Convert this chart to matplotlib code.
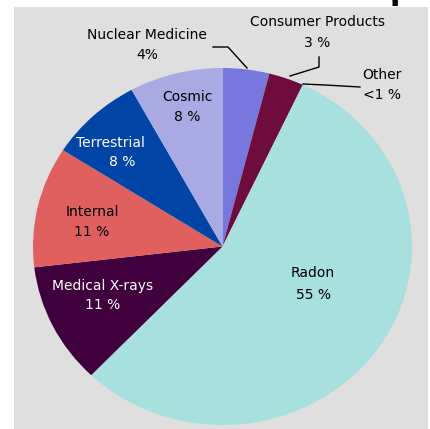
import matplotlib
matplotlib.use("Agg")
import matplotlib.pyplot as plt
from matplotlib.patches import Rectangle

# ---- data ----
categories = ["Nuclear Medicine", "Consumer Products", "Other", "Radon",
              "Medical X-rays", "Internal", "Terrestrial", "Cosmic"]
values = [4, 3, 0.5, 55, 11, 11, 8, 8]
value_labels = ["4%", "3 %", "<1 %", "55 %", "11 %", "11 %", "8 %", "8 %"]
colors = ["#7777DD", "#6E0C3E", "#A8E0E0", "#A8E0E0",
          "#3F003D", "#E06060", "#0045A5", "#A9A9E3"]
text_colors = ["black", "black", "black", "black",
               "white", "black", "white", "black"]

W, H = 430, 429
fig = plt.figure(figsize=(W / 100, H / 100), dpi=100)
fig.patch.set_facecolor("white")

# background panel (pixel coordinates, y downward)
bg = fig.add_axes([0, 0, 1, 1], zorder=0)
bg.set_xlim(0, W)
bg.set_ylim(H, 0)
bg.axis("off")
bg.add_patch(Rectangle((14, 7), 414, 430, facecolor="#DFDFDF", edgecolor="none"))

# pie axes (slightly elliptical, as in the reference)
cx, cy, rx, ry = 222.5, 246.5, 189.5, 178.5
pax = fig.add_axes([(cx - rx) / W, (H - cy - ry) / H, 2 * rx / W, 2 * ry / H], zorder=1)
pax.pie(values, colors=colors, startangle=90, counterclock=False,
        wedgeprops=dict(linewidth=0))
pax.set_aspect("auto")
pax.set_xlim(-1, 1)
pax.set_ylim(-1, 1)
pax.axis("off")

# overlay for labels and leader lines
ov = fig.add_axes([0, 0, 1, 1], zorder=2)
ov.set_xlim(0, W)
ov.set_ylim(H, 0)
ov.axis("off")
ov.patch.set_alpha(0)

label_pos = {
    "Nuclear Medicine": (147, 35, 55),
    "Consumer Products": (317, 22, 43),
    "Other": (382, 75, 95),
    "Radon": (313, 273, 295),
    "Medical X-rays": (103, 286, 305),
    "Internal": (92, 212, 232),
    "Terrestrial": (110, 143, 162),
    "Cosmic": (187, 97, 117),
}
fs = 10
for cat, vl, tc in zip(categories, value_labels, text_colors):
    x, y1, y2 = label_pos[cat]
    ov.text(x, y1, cat, ha="center", va="center", fontsize=fs, color=tc)
    xv = x + (12 if cat == "Terrestrial" else 0)
    ov.text(xv, y2, vl, ha="center", va="center", fontsize=fs, color=tc)

lines = [
    [(213, 47), (228, 47), (247, 68)],
    [(319, 57), (319, 67), (290, 76)],
    [(303, 84), (325, 85), (360, 87)],
]
for pts in lines:
    xs, ys = zip(*pts)
    ov.plot(xs, ys, color="black", lw=1)

# cut-off title fragment at the very top
fig.text(400 / W, 1.0, "p", fontsize=22, fontweight="bold", ha="center", va="baseline")

fig.savefig("out.png", dpi=100, facecolor="white")
